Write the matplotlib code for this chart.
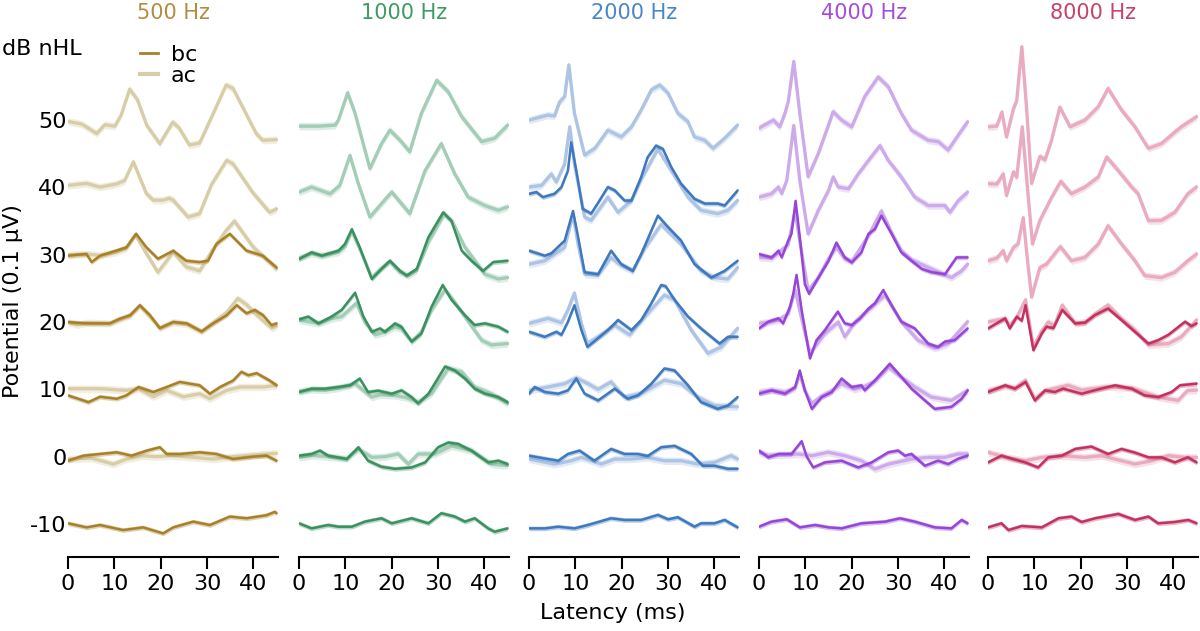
import matplotlib
matplotlib.use('Agg')
import matplotlib.pyplot as plt
from matplotlib.lines import Line2D

# ---------------- chart values ----------------
freqs = [500, 1000, 2000, 4000, 8000]
freq_labels = ['500 Hz', '1000 Hz', '2000 Hz', '4000 Hz', '8000 Hz']
levels = [50, 40, 30, 20, 10, 0, -10]
level_labels = ['50', '40', '30', '20', '10', '0', '-10']
x_ticks = [0, 10, 20, 30, 40]
x_max = 45.3

bc_colors = ['#a88028', '#3a915f', '#3e78be', '#9646d7', '#c3325f']
ac_colors = ['#d7cea8', '#a3cdb6', '#adc4e4', '#cdabeb', '#e9abbf']
title_colors = ['#b08d40', '#3f9a63', '#4a85c8', '#a24ddb', '#c9416a']

# waveforms: (latency ms, potential in 0.1 uV relative to the level baseline)
# ---- 500 Hz
w500_50_ac = [(0,-0.2),(3,-0.6),(6.2,-2.0),(7.9,-0.7),(10.1,-0.9),(11.5,0.8),(13.3,4.6),(15,3.0),(17,-0.8),(19.8,-3.5),(22.6,-0.3),(24,-1.2),(26.2,-3.7),(28.4,-3.4),(31,0.5),(34.1,5.2),(35.6,4.7),(38,1.5),(40.6,-2.0),(42,-3.0),(45,-2.9)]
w500_40_ac = [(0,0.3),(4,0.6),(6.9,0.05),(10.4,0.5),(12.2,1.0),(14.1,3.8),(16.9,-0.9),(18.4,-1.9),(20.5,-1.9),(21.8,-1.6),(22.7,-1.9),(25.9,-4.4),(28.4,-3.9),(31,0.5),(34.2,4.0),(35.6,3.5),(40,-0.9),(43.5,-3.7),(45,-3.2)]
w500_30_bc = [(0,-0.15),(2,0),(4,0.1),(5.1,-1.1),(6.9,-0.15),(10.4,0.6),(12.6,1.1),(14.7,3.1),(16.9,1.1),(19.4,-0.6),(22.7,0.6),(25.5,-0.9),(28.4,-1.1),(30.2,-0.9),(32,1.6),(34.9,3.1),(38.5,0.6),(42,-0.15),(45,-1.9)]
w500_30_ac = [(0,0),(4,0.1),(6.9,-0.1),(10.4,0.4),(12.6,1.0),(14.5,3.0),(16.9,0.2),(19.4,-2.6),(22.7,0.4),(25.5,-1.8),(28.4,-2.4),(31,0.5),(34,3.5),(35.9,5.0),(38,3.0),(40,1.1),(42.5,-0.5),(45,-2.1)]
w500_20_bc = [(0,0),(4,-0.2),(9,-0.2),(11.2,0.5),(13.4,1.0),(15.5,2.5),(17.7,1.0),(19.8,-0.9),(22.7,0),(25.6,-0.2),(28.8,-1.4),(31.3,-0.2),(34.2,1.0),(36.4,2.5),(38.5,1.3),(40.3,1.8),(42.1,1.0),(43.9,-0.45),(45,-0.2)]
w500_20_ac = [(0,0),(2,-0.4),(4,-0.1),(9,-0.2),(11.2,0.4),(13.4,1.0),(15.5,2.4),(17.7,0.8),(19.8,-0.9),(22.7,0),(25.6,-0.3),(28.8,-1.4),(31.3,-0.1),(34.2,1.4),(36.6,3.5),(38.5,2.6),(40.5,1.2),(42.8,-0.2),(44,-0.9),(45,-0.6)]
w500_10_bc = [(0,-0.9),(4.4,-1.9),(6.9,-1.1),(10.5,-1.4),(12.6,-0.9),(15.2,0.35),(18.4,-0.4),(21.3,0.35),(24.1,1.1),(28.4,0.6),(30.6,-0.65),(32.8,0.35),(35.6,1.3),(37.4,2.6),(38.9,2.1),(40.7,2.4),(43.5,1.3),(45,0.6)]
w500_10_ac = [(0,0.1),(6.9,0.1),(12.6,-0.15),(15.2,0.1),(18.4,-1.1),(21.3,-0.15),(24.9,-1.1),(28.4,-0.65),(30.6,-1.4),(34.2,-0.15),(37.1,0.35),(42.1,0.35),(45,0.6)]
w500_0_bc = [(0,-0.6),(3.3,0.15),(6.9,0.4),(10.5,0.65),(13.7,0.15),(17,0.9),(19.8,1.4),(21.3,0.4),(24.1,0.4),(28.4,0.65),(32,0.4),(35.6,-0.35),(39.9,0),(42.8,0.15),(45,-0.6)]
w500_0_ac = [(0,-0.35),(5,-0.2),(9.8,-1.1),(12.6,-0.35),(16.2,0.15),(19.1,0),(22,0.15),(25.5,0),(31.3,-0.35),(35.6,0),(42.8,0.4),(45,0.5)]
w500_m10_bc = [(0,0.1),(4,-0.5),(6.9,-0.15),(11.9,-0.9),(16.2,-0.5),(20.5,-1.4),(22.7,-0.5),(27,0.35),(30.6,-0.15),(34.9,1.1),(38.5,0.85),(42.8,1.3),(44.6,1.8),(45,1.6)]

# ---- 1000 Hz
w1000_50_ac = [(0,-0.9),(4.2,-0.9),(7.8,-0.75),(8.5,0),(10.5,4.05),(12.1,1.0),(15.3,-7.2),(17.8,-3.5),(19.6,-1.5),(21.8,-3.0),(23.9,-4.7),(26.4,1.0),(29.7,5.9),(32.2,4.2),(35.1,0.5),(39.4,-3.2),(42.2,-2.7),(45,-0.75)]
w1000_40_ac = [(0,-0.7),(2.7,0.05),(6.7,-0.95),(8.8,0.3),(11,4.75),(12.8,0.55),(15.3,-4.4),(17.8,-2.4),(20,-0.7),(22.1,-2.4),(23.9,-3.9),(27.2,2.5),(30.7,6.5),(33.6,2.0),(36.5,-1.45),(40.1,-2.7),(43,-3.4),(45,-2.9)]
w1000_30_bc = [(0,-0.65),(2.7,0.35),(4.9,-0.15),(8.5,0.6),(9.9,1.6),(11.4,3.8),(13.1,1.1),(15.7,-3.6),(17.8,-2.1),(19.6,-0.9),(21.8,-2.4),(23.2,-3.1),(25.4,-2.1),(27.9,2.6),(31.1,6.3),(32.9,5.0),(35.1,0.6),(37.2,-0.9),(39.7,-2.4),(41.9,-1.1),(45,-0.9)]
w1000_30_ac = [(0,-0.5),(2.7,0.2),(4.9,-0.1),(8.5,0.4),(9.9,1.2),(11.4,3.5),(13.1,0.9),(15.7,-3.4),(17.8,-2.0),(19.6,-1.0),(21.8,-2.6),(23.6,-3.1),(25.4,-2.3),(28,2.0),(31.3,6.0),(33,5.0),(35.8,1.1),(40.1,-2.9),(43,-3.6),(45,-3.4)]
w1000_20_bc = [(0,0.4),(2,0.8),(4.2,-0.2),(7,0.8),(9.2,1.8),(12.1,4.35),(13.9,0.8),(15.7,-1.45),(17.5,-0.95),(18.5,-1.45),(20.7,-0.2),(22.1,-0.7),(24.3,-2.9),(26.4,-1.7),(28.6,2.3),(31,5.5),(32.9,3.3),(35.8,1.0),(37.9,-0.45),(40.1,-0.2),(43,-0.7),(45,-1.45)]
w1000_20_ac = [(0,0.3),(4.2,-0.2),(7,0.5),(9.2,0.8),(12.4,2.8),(14.2,0),(16.4,-1.9),(18.5,-1.5),(20.7,-0.7),(22.1,-1.0),(24.3,-2.9),(26.4,-1.5),(28.6,1.8),(31.5,4.8),(33,3.5),(35.8,0.8),(39.4,-2.7),(41.5,-3.4),(45,-3.2)]
w1000_10_bc = [(0,-0.4),(2.7,0.1),(5.6,0.1),(8.5,0.35),(11,0.6),(13.1,1.6),(14.9,-0.4),(17.1,-0.2),(20,-0.65),(22.1,-0.15),(24.3,-1.15),(25.7,-2.1),(27.9,-0.65),(29.7,1.35),(31.5,3.4),(33.6,2.8),(35.8,1.6),(37.9,0.1),(40.1,-0.65),(43,-1.15),(45,-1.9)]
w1000_10_ac = [(0,-0.3),(2.7,0),(5.6,-0.1),(8.5,0.2),(12.1,0.85),(15.7,-1.15),(17.5,-0.8),(20.7,-0.9),(23,-1.2),(25.7,-1.9),(28.6,-0.6),(32.2,3.1),(35.1,2.6),(37.9,0.35),(41.5,-0.65),(45,-2.1)]
w1000_0_bc = [(0,0.15),(2.7,0.4),(4.5,0.9),(6.3,0.15),(10.3,-0.35),(12.8,1.4),(14.9,-0.6),(17.8,-1.5),(20.7,-1.8),(24.3,-1.6),(27.2,-0.85),(30,1.4),(32.2,2.1),(34.3,1.9),(37.2,0.9),(40.8,-0.85),(43,-0.6),(45,-1.1)]
w1000_0_ac = [(0,-0.1),(3,0.2),(6.3,0),(10.3,-0.3),(12.8,1.1),(15.7,-0.1),(18.5,0),(21.4,0.4),(23.6,-1.1),(25.7,0.4),(29.3,0.4),(32.9,1.6),(37.2,0.9),(41.5,-1.1),(45,-1.3)]
w1000_m10_bc = [(0,0.1),(2.7,-0.65),(6.3,-0.15),(8.5,-0.4),(11.4,-0.4),(14.2,0.35),(17.8,0.85),(20,0.1),(24.3,0.85),(27.9,0.1),(30.7,1.6),(33.6,1.1),(35.8,0.35),(37.9,0.85),(40.8,-0.65),(42.2,-1.15),(45,-0.65)]

# ---- 2000 Hz
w2000_50_ac = [(0,0),(4.1,0.75),(5.5,0.6),(6.6,2.7),(7.7,3.5),(8.6,8.2),(9.8,1.0),(12,-5.2),(14.2,-4.2),(17,-1.5),(19.9,-2.5),(22.1,-1.0),(24.2,1.5),(26.4,4.5),(28.2,5.2),(30,4.0),(32.1,1.0),(34.3,-0.25),(35.7,-2.5),(37.9,-3.0),(39.7,-4.2),(42.2,-2.7),(45,-0.75)]
w2000_40_bc = [(0,-0.95),(1.6,-0.7),(3,-1.45),(5.5,-0.95),(7,0.05),(8.4,2.5),(9.1,6.7),(10.2,2.5),(11.6,-3.2),(13.4,-3.9),(15.2,-1.95),(17,0.05),(18.5,-0.45),(20.6,-1.95),(22.1,-1.95),(24.2,1.55),(25.6,4.5),(27.4,6.2),(28.9,5.7),(30.7,3.0),(32.8,0.55),(35.7,-1.7),(37.9,-2.4),(40.7,-2.4),(42.2,-2.7),(45,-0.45)]
w2000_40_ac = [(0,0.05),(2.7,0.3),(4.8,2.0),(5.9,0.8),(7.7,3.5),(8.8,9.0),(9.8,3.5),(12,-4.4),(13.4,-4.9),(17,-1.45),(19.2,-3.7),(22.1,-1.95),(24.2,1.2),(27.8,5.7),(30.7,2.5),(34.3,-1.45),(37.1,-3.4),(40.7,-3.9),(42.9,-3.4),(45,-1.95)]
w2000_30_bc = [(0,0.6),(3.4,-0.15),(4.8,0.2),(7.7,2.1),(9.5,6.5),(10.6,2.6),(12,-2.6),(14.9,-2.9),(17.7,0.6),(19.9,-1.4),(22.4,-2.4),(24.2,0.1),(26.4,3.6),(27.8,5.8),(30,4.1),(32.8,2.1),(35.7,-1.4),(39.3,-3.4),(42.2,-2.4),(45,-0.9)]
w2000_30_ac = [(0,-1.4),(3.4,-0.9),(7.7,1.1),(9.5,6.0),(10.6,1.5),(12,-2.9),(14.9,-3.0),(17.7,-0.4),(19.9,-1.6),(22.4,-2.4),(25,1.0),(28.5,4.5),(32.8,1.6),(37.1,-2.4),(40,-3.4),(42.9,-3.6),(45,-1.9)]
w2000_20_bc = [(0,-1.45),(3.4,-2.2),(5.9,-1.45),(7,-1.9),(8.4,0.05),(9.8,2.5),(11.3,-1.2),(12.6,-3.7),(14.9,-2.4),(17,-1.2),(19.2,0.3),(22.1,-1.2),(24.2,0.3),(26.4,2.8),(28.5,5.5),(29.5,5.3),(31.4,3.3),(34.3,0.8),(37.1,-0.95),(41.1,-3.2),(42.9,-2.2),(45,-2.2)]
w2000_20_ac = [(0,-0.2),(4.1,0.55),(7,-0.1),(8.4,1.8),(9.8,4.3),(11.3,-0.2),(12.6,-3.2),(14.9,-2.2),(18.5,-0.45),(21.7,-1.9),(25.6,1.3),(29.2,4.0),(31.4,3.3),(35,-1.2),(38.6,-4.65),(41.5,-3.7),(45,-0.95)]
w2000_10_bc = [(0,-0.65),(1.2,0.35),(3.4,-0.4),(6.3,-0.65),(8.4,-0.15),(10.2,1.6),(12,-0.65),(14.9,-1.65),(18.5,0.1),(21.3,-1.4),(23.5,-0.9),(26.4,0.85),(29.2,3.1),(31.4,2.8),(34.3,0.6),(37.1,-1.9),(40.7,-2.9),(42.9,-2.4),(45,-1.15)]
w2000_10_ac = [(0,-0.15),(4.1,0.35),(7.7,0.85),(10.2,1.7),(12.7,0.85),(14.9,0),(17.7,1.1),(20.6,-1.15),(24.2,-0.6),(29.2,1.35),(32.8,0.85),(36.4,-1.15),(40,-2.4),(45,-2.6)]
w2000_0_bc = [(0,0.15),(4.1,-0.35),(6.3,-0.6),(8.4,0.4),(10.9,0.9),(14.1,-0.6),(17.7,1.15),(20.6,0.4),(23.5,0.4),(25.6,0.1),(28.5,1.4),(31.4,1.6),(35,0.4),(37.5,-1.35),(40,-1.35),(42.9,-1.8),(45,-1.8)]
w2000_0_ac = [(0,-0.35),(5.5,-1.1),(9.1,-0.6),(11.3,-0.1),(15.6,-1.1),(18.5,-0.35),(22.1,-0.35),(25.6,-0.1),(29.2,-0.6),(32.8,-0.6),(36.4,-1.1),(40,-0.85),(43.6,0.15),(45,-0.35)]
w2000_m10_bc = [(0,-0.65),(3.4,-0.65),(6.3,-0.4),(9.8,-0.65),(12.7,-0.15),(17.7,0.85),(20.6,0.6),(24.2,0.6),(27.8,1.35),(30,0.7),(32.1,1.0),(35.7,-0.4),(37.1,0.1),(40,0.1),(42.2,0.6),(45,-0.5)]

# ---- 4000 Hz
w4000_50_ac = [(0,-1.2),(3.1,0),(4.5,-1.0),(5.6,1.0),(6.3,2.7),(7.5,8.7),(8.8,1.0),(10.6,-8.4),(12.8,-4.95),(14.6,-1.5),(16,1.25),(17.8,0),(20,-1.0),(22.8,3.5),(25.7,6.4),(27.9,4.95),(30.7,1.0),(32.9,-1.5),(36.5,-3.0),(38.7,-3.2),(40.8,-4.45),(43,-2.2),(45,-0.25)]
w4000_40_ac = [(0,-1.45),(2.7,-0.95),(4.2,0.05),(4.9,-0.9),(6,1.05),(7.5,9.2),(8.8,1.05),(10.6,-6.9),(12.8,-3.4),(15,-0.45),(16,1.55),(17.1,0.05),(19.3,-0.2),(21.4,2.0),(23.6,4.0),(26.1,6.2),(27.9,4.0),(30.7,1.55),(33.6,-1.45),(36.5,-2.7),(40.1,-2.7),(41.2,-3.7),(43,-1.95),(45,-0.7)]
w4000_30_bc = [(0,0.1),(2.7,-0.4),(4.2,0.6),(4.9,-0.4),(6.3,2.1),(7,3.1),(7.9,8.0),(8.8,2.6),(9.9,-4.4),(10.8,-5.8),(12.8,-3.4),(15,-0.9),(16.7,1.8),(18.5,-0.4),(20,-1.15),(22.1,0.35),(23.6,3.1),(25,3.8),(26.4,5.8),(28.6,3.1),(30.7,0.35),(32.9,-0.9),(35.1,-2.1),(37.2,-2.6),(40.1,-2.9),(42.6,-0.4),(45,-0.4)]
w4000_30_ac = [(0,-0.4),(2.7,-0.5),(4.2,0.3),(6.3,1.5),(7.8,6.5),(8.8,2.0),(10.6,-5.3),(12.8,-3.4),(15,-0.6),(16.7,1.1),(18.5,-0.6),(20,-1.0),(23.6,2.8),(26.4,6.5),(28.6,3.3),(30.7,0.6),(33,-0.8),(37.2,-2.1),(41.5,-3.4),(43.7,-2.4),(45,-1.4)]
w4000_20_bc = [(0,-0.95),(2,0.05),(4.2,0.55),(5.2,-0.2),(6.7,2.3),(7.4,4.25),(8.1,7.0),(9.2,1.8),(11,-5.4),(12.4,-2.7),(14.2,-1.2),(17,1.55),(18.5,-0.2),(20,-0.45),(21.8,0.55),(23.6,2.0),(25,2.8),(26.8,4.75),(28.6,2.5),(30.7,0.05),(33.6,-0.95),(36.5,-3.2),(38.6,-3.7),(40.1,-2.9),(42.2,-2.7),(45,-0.95)]
w4000_20_ac = [(0,-0.2),(2,0),(4.2,0.3),(6.3,1.2),(7.8,4.75),(9.2,0.5),(11,-4.65),(14.2,-1.7),(17.1,0),(18.5,-2.2),(20.7,0),(23.6,1.8),(27.2,4.0),(30.7,0.05),(34.3,-2.7),(37.9,-3.9),(40.8,-3.2),(45,0.05)]
w4000_10_bc = [(0,-0.65),(2.7,-0.15),(5.6,-0.65),(7.8,0.35),(8.8,2.8),(9.9,-0.15),(11.4,-2.9),(13.5,-1.15),(15.7,-0.4),(17.8,1.6),(20,0.35),(22.1,0.6),(22.8,-0.15),(25,1.35),(28.2,3.8),(30.7,1.85),(32.9,0.1),(35.8,-1.65),(37.9,-2.9),(41.5,-2.6),(43.7,-1.4),(45,-0.15)]
w4000_10_ac = [(0,-0.4),(2.7,-0.1),(5.6,-0.4),(7.8,0.2),(8.8,2.3),(9.9,-0.2),(11.4,-2.1),(13.5,-1.0),(15.7,-0.2),(17.8,0.85),(20.6,0),(23,0.5),(25,1.2),(28,3.3),(30.7,1.8),(33.6,0.35),(37.2,-1.15),(41.5,-1.65),(45,-0.15)]
w4000_0_bc = [(0,0.9),(2,-0.1),(4.2,0.4),(7,0.4),(9.2,2.3),(10.3,0),(11.7,-1.6),(14.2,-0.85),(17.8,-0.6),(21.4,-1.6),(24.3,-0.85),(27.9,0.65),(30,0.9),(31.5,0.15),(32.9,0.4),(35.8,-1.35),(38.6,-0.6),(40.8,-1.1),(43,-0.3),(45,0.15)]
w4000_0_ac = [(0,0.65),(2,0.2),(5,0.3),(8.5,0.4),(11.4,0.15),(14.9,0.65),(18.5,0.15),(22.1,-0.6),(25,-1.85),(27.9,-1.1),(32.9,-0.35),(36.5,-0.1),(40.1,-0.1),(43,0.4),(45,0.4)]
w4000_m10_bc = [(0,-0.4),(2.7,0.35),(6,0.7),(8.8,-0.5),(12.1,-0.15),(15,-0.5),(17.8,-0.65),(22.1,0.1),(27.2,0.35),(30.4,0.85),(33.6,0.35),(37.9,-0.5),(41.5,-0.65),(43.7,0.6),(45,0.1)]

# ---- 8000 Hz
w8000_50_ac = [(0,-1.0),(1.9,-0.9),(3.0,1.2),(4.0,-2.5),(5.5,1.7),(6.2,2.9),(7.3,10.9),(8.3,2.0),(9.4,-9.4),(11.2,-5.4),(12.3,-5.9),(13.7,-3.0),(15.5,1.9),(17.7,-1.0),(20.9,0),(23.8,2.0),(25.9,4.7),(28.8,1.5),(31.7,-1.0),(34.6,-4.2),(37.4,-3.5),(39.6,-2.2),(41.7,-1.0),(45,0.5)]
w8000_40_ac = [(0,0.55),(1.9,0.5),(3.3,2.0),(4.0,-1.2),(5.5,2.3),(6.2,1.5),(7.4,9.0),(8.5,0),(9.6,-8.4),(11.2,-4.9),(12.3,-3.4),(13.7,-1.5),(15.7,0.9),(18,-0.95),(20.9,0.05),(23.8,1.55),(25.6,4.5),(28.1,2.5),(31,0.05),(32.4,-0.95),(34.6,-4.95),(37.4,-4.9),(40.3,-3.7),(43.1,-0.95),(45,0.05)]
w8000_30_ac = [(0,-0.9),(1.9,-0.5),(3.3,0.6),(4.0,-0.9),(5.5,1.1),(6.5,1.6),(7.6,5.5),(8.4,0),(9.4,-6.3),(11.2,-1.9),(12.6,-1.4),(15.6,1.2),(18,-0.9),(20.9,-0.4),(23.8,1.6),(25.9,4.3),(28.8,1.6),(31.7,-0.9),(33.8,-3.1),(37.4,-3.4),(40.3,-2.6),(43.1,-0.9),(45,0.1)]
w8000_20_bc = [(0,-0.95),(3.7,0.55),(4.7,-0.95),(6.2,0.8),(7.3,0.2),(8.1,2.5),(9.8,-4.2),(11.6,-1.7),(12.6,-0.7),(14.1,-0.9),(16,1.8),(18.8,-0.2),(20.9,-0.1),(23.1,1.05),(25.9,2.0),(28.8,0.3),(31.7,-1.45),(34.6,-3.2),(36.7,-2.7),(38.9,-1.9),(42.5,0.05),(43.9,-0.6),(45,-0.2)]
w8000_20_ac = [(0,0),(3.7,0.5),(4.7,-0.5),(6.2,0.7),(8.1,3.3),(9.8,-3.7),(11.6,-1.3),(13,0),(14.3,-0.6),(16,2.5),(18.8,-0.2),(21,0),(23.1,1.2),(25.9,2.5),(28.8,0.5),(31.7,-1.2),(34.6,-3.4),(38.9,-3.2),(41.7,-2.2),(45,0.3)]
w8000_10_bc = [(0,-0.4),(3.7,0.6),(5.8,0.1),(8.1,1.1),(10.1,-1.65),(12.3,-0.15),(14.4,-0.4),(16.2,0.1),(20.2,-0.65),(23.8,0),(27.4,0.6),(31,0.1),(33.8,-0.9),(36.7,-1.15),(39.6,-0.4),(41.4,0.6),(45,0.85)]
w8000_10_ac = [(0,-0.2),(3.7,0.5),(5.8,0.2),(8.1,1.35),(10.1,-1.4),(12.3,-0.2),(17.3,0.6),(20.2,-0.1),(25.9,0.4),(31,0.2),(36.7,-1.15),(41,-1.65),(43,-0.2),(45,-0.1)]
w8000_0_bc = [(0,-0.85),(2.9,0.15),(5.1,-0.3),(8,-0.85),(10.8,-1.6),(13,-0.1),(15.9,0.15),(18.8,1.15),(22.3,1.5),(25.9,0.4),(28.8,1.15),(31.7,0.6),(34.6,-0.1),(37.4,-0.1),(40.3,-0.85),(43.1,-0.1),(45,-0.85)]
w8000_0_ac = [(0,0.65),(4,-0.1),(8,-0.6),(11.6,-0.1),(15.9,0.15),(20.9,-0.1),(24.5,0.15),(28.8,-0.6),(31.7,-1.1),(35.3,-0.6),(38.9,0.15),(42.5,-0.1),(45,-0.1)]
w8000_m10_bc = [(0,-0.5),(2.9,0.1),(4.4,-0.9),(7.3,-0.3),(11.6,-0.5),(15.2,0.85),(18,1.1),(20.2,0.3),(23.1,0.85),(28.1,1.5),(31.7,0.6),(34.6,1.1),(36.7,0.1),(40.3,0.3),(43.2,0.6),(45,0.1)]

traces = {
    500: {50: {'ac': w500_50_ac}, 40: {'ac': w500_40_ac},
          30: {'ac': w500_30_ac, 'bc': w500_30_bc}, 20: {'ac': w500_20_ac, 'bc': w500_20_bc},
          10: {'ac': w500_10_ac, 'bc': w500_10_bc}, 0: {'ac': w500_0_ac, 'bc': w500_0_bc},
          -10: {'bc': w500_m10_bc}},
    1000: {50: {'ac': w1000_50_ac}, 40: {'ac': w1000_40_ac},
           30: {'ac': w1000_30_ac, 'bc': w1000_30_bc}, 20: {'ac': w1000_20_ac, 'bc': w1000_20_bc},
           10: {'ac': w1000_10_ac, 'bc': w1000_10_bc}, 0: {'ac': w1000_0_ac, 'bc': w1000_0_bc},
           -10: {'bc': w1000_m10_bc}},
    2000: {50: {'ac': w2000_50_ac}, 40: {'ac': w2000_40_ac, 'bc': w2000_40_bc},
           30: {'ac': w2000_30_ac, 'bc': w2000_30_bc}, 20: {'ac': w2000_20_ac, 'bc': w2000_20_bc},
           10: {'ac': w2000_10_ac, 'bc': w2000_10_bc}, 0: {'ac': w2000_0_ac, 'bc': w2000_0_bc},
           -10: {'bc': w2000_m10_bc}},
    4000: {50: {'ac': w4000_50_ac}, 40: {'ac': w4000_40_ac},
           30: {'ac': w4000_30_ac, 'bc': w4000_30_bc}, 20: {'ac': w4000_20_ac, 'bc': w4000_20_bc},
           10: {'ac': w4000_10_ac, 'bc': w4000_10_bc}, 0: {'ac': w4000_0_ac, 'bc': w4000_0_bc},
           -10: {'bc': w4000_m10_bc}},
    8000: {50: {'ac': w8000_50_ac}, 40: {'ac': w8000_40_ac}, 30: {'ac': w8000_30_ac},
           20: {'ac': w8000_20_ac, 'bc': w8000_20_bc},
           10: {'ac': w8000_10_ac, 'bc': w8000_10_bc}, 0: {'ac': w8000_0_ac, 'bc': w8000_0_bc},
           -10: {'bc': w8000_m10_bc}},
}

# ---------------- drawing ----------------
W, H = 1200, 631
fig = plt.figure(figsize=(W / 100, H / 100), dpi=100)
plt.rcParams['font.family'] = ['DejaVu Sans']

panel_left_px = [68, 299, 529, 759, 988]
panel_w_px = 210
ax_bottom_px, ax_top_px = 557, 40
y_lo, y_hi = -14.9, 61.9

axes = []
for i, f in enumerate(freqs):
    ax = fig.add_axes([panel_left_px[i] / W, 1 - ax_bottom_px / H,
                       panel_w_px / W, (ax_bottom_px - ax_top_px) / H])
    axes.append(ax)
    for lvl in levels:
        kinds = traces[f][lvl]
        for kind in ['ac', 'bc']:
            if kind not in kinds:
                continue
            w = kinds[kind]
            t = [p[0] for p in w]
            v = [p[1] + lvl for p in w]
            if kind == 'ac':
                col, lw, band, z = ac_colors[i], 2.4, 0.55, 2
            else:
                col, lw, band, z = bc_colors[i], 1.8, 0.35, 3
            ax.fill_between(t, [y - band for y in v], [y + band for y in v],
                            color=col, alpha=0.35, lw=0, zorder=z)
            ax.plot(t, v, color=col, lw=lw, zorder=z + 0.5,
                    solid_joinstyle='round', solid_capstyle='round')
    ax.set_xlim(0, x_max)
    ax.set_ylim(y_lo, y_hi)
    for s in ['top', 'right', 'left']:
        ax.spines[s].set_visible(False)
    ax.spines['bottom'].set_linewidth(1.5)
    ax.set_xticks(x_ticks)
    ax.set_xticklabels([str(x) for x in x_ticks])
    ax.tick_params(axis='x', length=8.5, width=1.5, labelsize=16, pad=4)
    ax.set_yticks(levels)
    if i == 0:
        ax.set_yticklabels(level_labels)
        ax.tick_params(axis='y', length=0, labelsize=16, pad=1)
    else:
        ax.set_yticklabels([])
        ax.tick_params(axis='y', length=0)
    cx = (panel_left_px[i] + panel_w_px / 2) / W
    fig.text(cx, 1 - 13 / H, freq_labels[i], color=title_colors[i],
             fontsize=15, ha='center', va='center')

handles = [Line2D([], [], color=bc_colors[0], lw=2),
           Line2D([], [], color=ac_colors[0], lw=3)]
fig.legend(handles, ['bc', 'ac'], loc='upper left',
           bbox_to_anchor=(140 / W, 1 - 45 / H), frameon=False, fontsize=16,
           handlelength=0.8, handletextpad=0.6, labelspacing=0.05, borderpad=0,
           borderaxespad=0)

fig.text(2 / W, 1 - 49 / H, 'dB nHL', fontsize=16, ha='left', va='center')
fig.text(13 / W, 1 - 301 / H, 'Potential (0.1 µV)', fontsize=16, rotation=90,
         ha='center', va='center')
fig.text(613 / W, 1 - 613 / H, 'Latency (ms)', fontsize=16, ha='center', va='center')

fig.savefig('out.png', dpi=100)
